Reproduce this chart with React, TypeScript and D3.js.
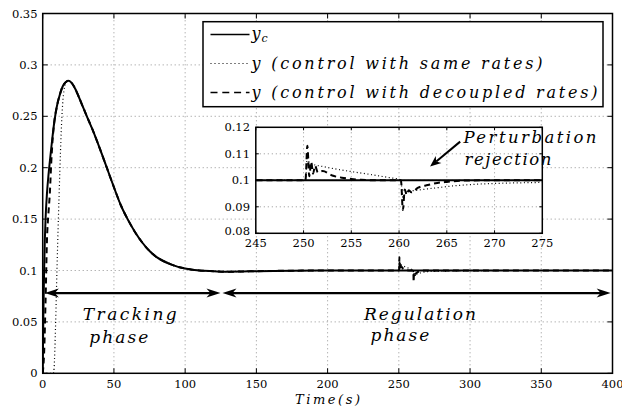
import React from 'react';
import * as d3 from 'd3';

const W = 622;
const H = 408;

// Reference trajectory y_c
const ycTime = [0, 0.5, 1, 1.5, 2, 3, 4, 5, 6, 8, 10, 12, 14, 16, 18, 20, 22, 25, 28, 31, 35, 40, 45, 50, 55, 60, 65, 70, 75, 80, 85, 90, 95, 100, 110, 120, 130, 140, 150, 175, 200, 400];
const ycValue = [0, 0.06, 0.1, 0.13, 0.15, 0.175, 0.192, 0.206, 0.219, 0.243, 0.26, 0.271, 0.279, 0.283, 0.2846, 0.283, 0.279, 0.27, 0.26, 0.25, 0.237, 0.219, 0.2, 0.181, 0.163, 0.149, 0.137, 0.127, 0.119, 0.113, 0.109, 0.106, 0.1035, 0.102, 0.1, 0.0993, 0.0988, 0.099, 0.0993, 0.0998, 0.1, 0.1];

// Output y, control with same rates
const sameTime = [0, 7.5, 8, 9, 10, 11, 12, 13, 14, 15, 16, 18, 20, 22, 25, 28, 31, 35, 40, 45, 50, 55, 60, 65, 70, 75, 80, 85, 90, 95, 100, 110, 120, 130, 140, 150, 175, 200, 250, 250.2, 250.4, 250.6, 251, 252, 253, 255, 257, 259, 260, 260.2, 260.4, 260.7, 261, 262, 264, 266, 268, 270, 275, 285, 300, 330, 400];
const sameValue = [0, 0, 0.005, 0.045, 0.1, 0.15, 0.195, 0.235, 0.262, 0.276, 0.282, 0.2846, 0.283, 0.279, 0.27, 0.26, 0.25, 0.237, 0.219, 0.2, 0.181, 0.163, 0.149, 0.137, 0.127, 0.119, 0.113, 0.109, 0.106, 0.1035, 0.102, 0.1, 0.0993, 0.0988, 0.099, 0.0993, 0.0998, 0.1, 0.1, 0.1, 0.109, 0.1065, 0.106, 0.1052, 0.1045, 0.1033, 0.1022, 0.101, 0.1004, 0.1, 0.0935, 0.0955, 0.0958, 0.0963, 0.0972, 0.098, 0.0985, 0.0988, 0.0992, 0.0995, 0.0998, 0.1, 0.1];

// Output y, control with decoupled rates
const decTime = [0, 1, 2, 3, 4, 5, 6, 7, 8, 10, 12, 14, 16, 18, 20, 22, 25, 28, 31, 35, 40, 45, 50, 55, 60, 65, 70, 75, 80, 85, 90, 95, 100, 110, 120, 130, 140, 150, 175, 200, 250, 250.2, 250.4, 250.6, 250.8, 251, 251.2, 251.5, 252, 253, 254, 255, 256, 258, 260, 260.2, 260.4, 260.6, 260.8, 261, 261.3, 262, 263, 264, 265, 267, 270, 300, 400];
const decValue = [0, 0.02, 0.07, 0.13, 0.155, 0.175, 0.205, 0.228, 0.243, 0.26, 0.271, 0.279, 0.283, 0.2846, 0.283, 0.279, 0.27, 0.26, 0.25, 0.237, 0.219, 0.2, 0.181, 0.163, 0.149, 0.137, 0.127, 0.119, 0.113, 0.109, 0.106, 0.1035, 0.102, 0.1, 0.0993, 0.0988, 0.099, 0.0993, 0.0998, 0.1, 0.1, 0.1, 0.113, 0.1015, 0.107, 0.1025, 0.1055, 0.103, 0.1035, 0.1018, 0.101, 0.1005, 0.1002, 0.1, 0.1, 0.1, 0.0888, 0.0965, 0.0945, 0.0962, 0.0955, 0.0972, 0.0982, 0.099, 0.0994, 0.0999, 0.1, 0.1, 0.1];

const xTicks = [0, 50, 100, 150, 200, 250, 300, 350, 400];
const yTicks = [0, 0.05, 0.1, 0.15, 0.2, 0.25, 0.3, 0.35];
const insetXTicks = [245, 250, 255, 260, 265, 270, 275];
const insetYTicks = [0.08, 0.09, 0.1, 0.11, 0.12];

const legendLabels = ['y (control with same rates)', 'y (control with decoupled rates)'];

// Phase spans (time) and the level at which their arrows are drawn
const trackingSpan = [1.5, 124.8];
const regulationSpan = [126.2, 398.7];
const phaseArrowLevel = 0.078;

const SERIF = "'DejaVu Serif', 'Liberation Serif', serif";

const fmt = (v: number) => String(+v.toFixed(2));

function arrowHead(tipX: number, tipY: number, angle: number, len: number, half: number, notch: number) {
  const c = Math.cos(angle);
  const s = Math.sin(angle);
  const pt = (dx: number, dy: number) => [tipX + dx * c - dy * s, tipY + dx * s + dy * c];
  const p1 = pt(-len, -half);
  const p2 = pt(-len + notch, 0);
  const p3 = pt(-len, half);
  return `M${tipX},${tipY}L${p1[0]},${p1[1]}L${p2[0]},${p2[1]}L${p3[0]},${p3[1]}Z`;
}

export default function App() {
  const x = d3.scaleLinear().domain([0, 400]).range([42.7, 612.5]);
  const y = d3.scaleLinear().domain([0, 0.35]).range([373.3, 13.5]);
  const xi = d3.scaleLinear().domain([245, 275]).range([255.8, 542.3]);
  const yi = d3.scaleLinear().domain([0.08, 0.12]).range([233.3, 127.3]);

  const mkLine = (sx: d3.ScaleLinear<number, number>, sy: d3.ScaleLinear<number, number>, t: number[]) =>
    d3.line<number>()
      .x((_, i) => sx(t[i]))
      .y((v) => sy(v))
      .curve(d3.curveMonotoneX);

  const [x0, x1] = x.range();
  const [y0, y1] = y.range();
  const [ix0, ix1] = xi.range();
  const [iy0, iy1] = yi.range();

  const gridStyle = { stroke: '#666', strokeWidth: 0.7, strokeDasharray: '1,3' };

  const series = [
    { t: ycTime, v: ycValue, w: 2, dash: undefined as string | undefined },
    { t: sameTime, v: sameValue, w: 1.2, dash: '1,2.6' },
    { t: decTime, v: decValue, w: 2, dash: '6,4' },
  ];

  const ay = y(phaseArrowLevel);
  const arrows = [trackingSpan, regulationSpan].map((sp) => [x(sp[0]), x(sp[1])]);

  // Perturbation annotation arrow, in inset coordinates
  const pa = { x1: xi(266.4), y1: yi(0.1146), x2: xi(263.25), y2: yi(0.1052) };
  const paAngle = Math.atan2(pa.y2 - pa.y1, pa.x2 - pa.x1);

  const legendRows = [34.5, 63.5, 92.5];

  return (
    <svg width={W} height={H} style={{ position: 'absolute', left: 0, top: 0, background: '#fff' }}>
      <defs>
        <clipPath id="mainClip">
          <rect x={x0} y={y1} width={x1 - x0} height={y0 - y1} />
        </clipPath>
        <clipPath id="insetClip">
          <rect x={ix0} y={iy1} width={ix1 - ix0} height={iy0 - iy1} />
        </clipPath>
      </defs>
      <rect x={0} y={0} width={W} height={H} fill="#fff" />

      {/* main grid */}
      {xTicks.slice(1, -1).map((t) => (
        <line key={'gx' + t} x1={x(t)} x2={x(t)} y1={y0} y2={y1} style={gridStyle} />
      ))}
      {yTicks.slice(1, -1).map((t) => (
        <line key={'gy' + t} x1={x0} x2={x1} y1={y(t)} y2={y(t)} style={gridStyle} />
      ))}

      {/* main series */}
      <g clipPath="url(#mainClip)">
        {series.map((s, i) => (
          <path
            key={'s' + i}
            d={mkLine(x, y, s.t)(s.v) || ''}
            fill="none"
            stroke="#000"
            strokeWidth={s.w}
            strokeDasharray={s.dash}
          />
        ))}
      </g>

      {/* phase arrows */}
      {arrows.map(([a, b], i) => (
        <g key={'arr' + i}>
          <line x1={a + 6} x2={b - 6} y1={ay} y2={ay} stroke="#000" strokeWidth={2.2} />
          <path d={arrowHead(a, ay, Math.PI, 14, 4.5, 4)} fill="#000" />
          <path d={arrowHead(b, ay, 0, 14, 4.5, 4)} fill="#000" />
        </g>
      ))}

      {/* phase labels */}
      <g fontFamily={SERIF} fontStyle="italic" fontSize={17} fill="#000">
        <text x={x(28.1)} y={y(0.0518)} textLength={94} lengthAdjust="spacing">Tracking</text>
        <text x={x(32.7)} y={y(0.0298)} textLength={59} lengthAdjust="spacing">phase</text>
        <text x={x(225.5)} y={y(0.0518)} textLength={112} lengthAdjust="spacing">Regulation</text>
        <text x={x(230.2)} y={y(0.0317)} textLength={58.6} lengthAdjust="spacing">phase</text>
      </g>

      {/* main frame and ticks */}
      <rect x={x0} y={y1} width={x1 - x0} height={y0 - y1} fill="none" stroke="#000" strokeWidth={1.5} />
      {xTicks.map((t) => (
        <g key={'tx' + t}>
          <line x1={x(t)} x2={x(t)} y1={y0} y2={y0 - 5} stroke="#000" strokeWidth={1} />
          <line x1={x(t)} x2={x(t)} y1={y1} y2={y1 + 5} stroke="#000" strokeWidth={1} />
          <text x={x(t)} y={388} textAnchor="middle" fontFamily={SERIF} fontSize={11.5}>{fmt(t)}</text>
        </g>
      ))}
      {yTicks.map((t) => (
        <g key={'ty' + t}>
          <line x1={x0} x2={x0 + 5} y1={y(t)} y2={y(t)} stroke="#000" strokeWidth={1} />
          <line x1={x1} x2={x1 - 5} y1={y(t)} y2={y(t)} stroke="#000" strokeWidth={1} />
          <text x={37.5} y={y(t)} dy="0.36em" textAnchor="end" fontFamily={SERIF} fontSize={11.5}>{fmt(t)}</text>
        </g>
      ))}
      <text x={295} y={404} fontFamily={SERIF} fontStyle="italic" fontSize={13} textLength={65} lengthAdjust="spacing">Time(s)</text>

      {/* legend */}
      <rect x={203} y={21.7} width={400} height={85} fill="#fff" stroke="#000" strokeWidth={1.5} />
      {series.map((s, i) => (
        <line
          key={'lg' + i}
          x1={210.5}
          x2={249.5}
          y1={legendRows[i]}
          y2={legendRows[i]}
          stroke="#000"
          strokeWidth={s.w === 2 ? 1.6 : 1}
          strokeDasharray={i === 1 ? '1,3' : i === 2 ? '7,4.8' : undefined}
        />
      ))}
      <g fontFamily={SERIF} fontStyle="italic" fontSize={16} fill="#000">
        <text x={251.5} y={legendRows[0] + 4}>
          y<tspan fontSize={11} dx={1} dy={3}>c</tspan>
        </text>
        <text x={251.5} y={legendRows[1] + 5} textLength={291} lengthAdjust="spacing">{legendLabels[0]}</text>
        <text x={251.5} y={legendRows[2] + 5} textLength={346} lengthAdjust="spacing">{legendLabels[1]}</text>
      </g>

      {/* inset */}
      <rect x={ix0} y={iy1} width={ix1 - ix0} height={iy0 - iy1} fill="#fff" />
      {insetXTicks.slice(1, -1).map((t) => (
        <line key={'igx' + t} x1={xi(t)} x2={xi(t)} y1={iy0} y2={iy1} style={gridStyle} />
      ))}
      {insetYTicks.slice(1, -1).map((t) => (
        <line key={'igy' + t} x1={ix0} x2={ix1} y1={yi(t)} y2={yi(t)} style={gridStyle} />
      ))}
      <g clipPath="url(#insetClip)">
        {series.map((s, i) => (
          <path
            key={'is' + i}
            d={mkLine(xi, yi, s.t)(s.v) || ''}
            fill="none"
            stroke="#000"
            strokeWidth={s.w}
            strokeDasharray={s.dash}
          />
        ))}
      </g>
      <rect x={ix0} y={iy1} width={ix1 - ix0} height={iy0 - iy1} fill="none" stroke="#000" strokeWidth={1.5} />
      {insetXTicks.map((t) => (
        <g key={'itx' + t}>
          <line x1={xi(t)} x2={xi(t)} y1={iy0} y2={iy0 - 3} stroke="#000" strokeWidth={1} />
          <line x1={xi(t)} x2={xi(t)} y1={iy1} y2={iy1 + 3} stroke="#000" strokeWidth={1} />
          <text x={xi(t)} y={246.5} textAnchor="middle" fontFamily={SERIF} fontSize={11.5}>{fmt(t)}</text>
        </g>
      ))}
      {insetYTicks.map((t) => (
        <g key={'ity' + t}>
          <line x1={ix0} x2={ix0 + 3} y1={yi(t)} y2={yi(t)} stroke="#000" strokeWidth={1} />
          <line x1={ix1} x2={ix1 - 3} y1={yi(t)} y2={yi(t)} stroke="#000" strokeWidth={1} />
          <text x={250} y={t === 0.08 ? yi(t) - 2 : yi(t)} dy="0.36em" textAnchor="end" fontFamily={SERIF} fontSize={11.5}>{fmt(t)}</text>
        </g>
      ))}

      {/* perturbation annotation */}
      <line
        x1={pa.x1}
        y1={pa.y1}
        x2={pa.x2 - 8 * Math.cos(paAngle)}
        y2={pa.y2 - 8 * Math.sin(paAngle)}
        stroke="#000"
        strokeWidth={2}
      />
      <path d={arrowHead(pa.x2, pa.y2, paAngle, 11, 4.5, 3)} fill="#000" />
      <g fontFamily={SERIF} fontStyle="italic" fontSize={16.5} fill="#000">
        <text x={xi(266.75)} y={yi(0.11396)} textLength={133} lengthAdjust="spacing">Perturbation</text>
        <text x={xi(266.85)} y={yi(0.10577)} textLength={87} lengthAdjust="spacing">rejection</text>
      </g>
    </svg>
  );
}
